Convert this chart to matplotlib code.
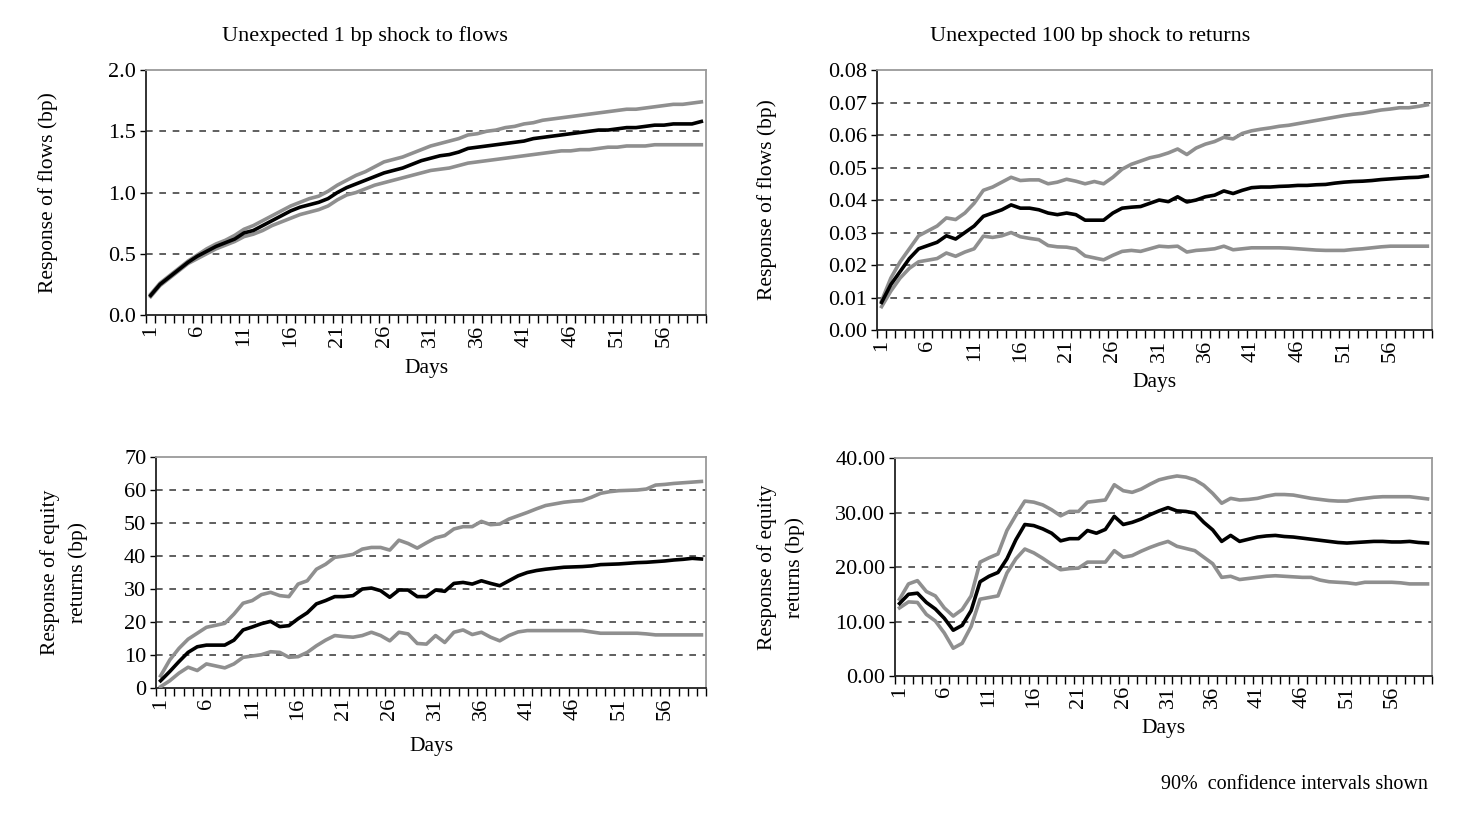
import matplotlib
matplotlib.use("Agg")
import matplotlib.pyplot as plt
import numpy as np
from matplotlib.ticker import FormatStrFormatter, FixedLocator

plt.rcParams['font.family'] = ['Liberation Serif', 'DejaVu Serif']

days = list(range(1, 61))
tick_days = list(range(1, 60, 5))

# top-left: 1 bp shock to flows -> response of flows
flow_flow_mid = [0.16, 0.25, 0.31, 0.37, 0.43, 0.48, 0.52, 0.56, 0.59, 0.62,
                 0.67, 0.69, 0.73, 0.77, 0.81, 0.85, 0.88, 0.90, 0.92, 0.95,
                 1.00, 1.04, 1.07, 1.10, 1.13, 1.16, 1.18, 1.20, 1.23, 1.26,
                 1.28, 1.30, 1.31, 1.33, 1.36, 1.37, 1.38, 1.39, 1.40, 1.41,
                 1.42, 1.44, 1.45, 1.46, 1.47, 1.48, 1.49, 1.50, 1.51, 1.51,
                 1.52, 1.53, 1.53, 1.54, 1.55, 1.55, 1.56, 1.56, 1.56, 1.58]
flow_flow_hi = [0.17, 0.26, 0.32, 0.38, 0.44, 0.49, 0.54, 0.58, 0.61, 0.65,
                0.70, 0.73, 0.77, 0.81, 0.85, 0.89, 0.92, 0.95, 0.97, 1.01,
                1.06, 1.10, 1.14, 1.17, 1.21, 1.25, 1.27, 1.29, 1.32, 1.35,
                1.38, 1.40, 1.42, 1.44, 1.47, 1.48, 1.50, 1.51, 1.53, 1.54,
                1.56, 1.57, 1.59, 1.60, 1.61, 1.62, 1.63, 1.64, 1.65, 1.66,
                1.67, 1.68, 1.68, 1.69, 1.70, 1.71, 1.72, 1.72, 1.73, 1.74]
flow_flow_lo = [0.15, 0.24, 0.30, 0.36, 0.42, 0.46, 0.50, 0.54, 0.57, 0.60,
                0.64, 0.66, 0.69, 0.73, 0.76, 0.79, 0.82, 0.84, 0.86, 0.89,
                0.94, 0.98, 1.00, 1.03, 1.06, 1.08, 1.10, 1.12, 1.14, 1.16,
                1.18, 1.19, 1.20, 1.22, 1.24, 1.25, 1.26, 1.27, 1.28, 1.29,
                1.30, 1.31, 1.32, 1.33, 1.34, 1.34, 1.35, 1.35, 1.36, 1.37,
                1.37, 1.38, 1.38, 1.38, 1.39, 1.39, 1.39, 1.39, 1.39, 1.39]

# top-right: 100 bp shock to returns -> response of flows
ret_flow_mid = [0.0085, 0.014, 0.018, 0.022, 0.025, 0.026, 0.027, 0.029, 0.028, 0.030,
                0.032, 0.035, 0.036, 0.037, 0.0385, 0.0375, 0.0375, 0.037, 0.036, 0.0355,
                0.036, 0.0355, 0.0338, 0.0338, 0.0338, 0.036, 0.0375, 0.0378, 0.038, 0.039,
                0.040, 0.0395, 0.041, 0.0394, 0.040, 0.041, 0.0415, 0.0428, 0.042, 0.043,
                0.0438, 0.044, 0.044, 0.0442, 0.0443, 0.0445, 0.0445, 0.0447, 0.0448, 0.0452,
                0.0455, 0.0457, 0.0458, 0.046, 0.0463, 0.0465, 0.0467, 0.0469, 0.047, 0.0474]
ret_flow_hi = [0.009, 0.016, 0.021, 0.025, 0.029, 0.0305, 0.032, 0.0345, 0.034, 0.036,
               0.039, 0.043, 0.044, 0.0455, 0.047, 0.046, 0.0462, 0.0462, 0.045, 0.0455,
               0.0464, 0.0458, 0.045, 0.0457, 0.045, 0.047, 0.0495, 0.051, 0.052, 0.053,
               0.0536, 0.0545, 0.0557, 0.054, 0.056, 0.0572, 0.058, 0.0593, 0.0588, 0.0605,
               0.0613, 0.0618, 0.0622, 0.0627, 0.063, 0.0635, 0.064, 0.0645, 0.065, 0.0655,
               0.066, 0.0664, 0.0667, 0.0672, 0.0677, 0.068, 0.0684, 0.0684, 0.0688, 0.0693]
ret_flow_lo = [0.0072, 0.012, 0.016, 0.019, 0.021, 0.0215, 0.022, 0.0237, 0.0227, 0.024,
               0.025, 0.0289, 0.0285, 0.029, 0.030, 0.0287, 0.0282, 0.0278, 0.026, 0.0256,
               0.0255, 0.025, 0.0228, 0.0222, 0.0216, 0.023, 0.0242, 0.0245, 0.0242, 0.025,
               0.0258, 0.0256, 0.0258, 0.024, 0.0245, 0.0247, 0.025, 0.0258, 0.0247, 0.025,
               0.0253, 0.0253, 0.0253, 0.0253, 0.0252, 0.025, 0.0248, 0.0246, 0.0245, 0.0245,
               0.0245, 0.0248, 0.025, 0.0253, 0.0256, 0.0258, 0.0258, 0.0258, 0.0258, 0.0258]

# bottom-left: 1 bp shock to flows -> response of equity returns
flow_ret_mid = [2.2, 5.0, 8.0, 10.8, 12.5, 13.0, 13.0, 13.0, 14.5, 17.6,
                18.5, 19.5, 20.2, 18.6, 18.9, 21.0, 22.8, 25.5, 26.5, 27.7,
                27.7, 28.0, 30.0, 30.3, 29.5, 27.5, 29.7, 29.7, 27.7, 27.7,
                29.7, 29.3, 31.7, 32.0, 31.5, 32.5, 31.7, 31.0, 32.5, 34.0,
                35.0, 35.6, 36.0, 36.3, 36.6, 36.7, 36.8, 37.0, 37.4, 37.5,
                37.6, 37.8, 38.0, 38.1, 38.3, 38.5, 38.8, 39.0, 39.3, 39.1]
flow_ret_hi = [3.7, 8.5, 12.0, 14.8, 16.6, 18.4, 19.0, 19.6, 22.4, 25.7,
               26.5, 28.3, 29.0, 28.0, 27.7, 31.5, 32.5, 36.0, 37.5, 39.6,
               40.0, 40.5, 42.1, 42.6, 42.6, 41.8, 44.8, 43.8, 42.4, 44.0,
               45.5, 46.2, 48.2, 48.9, 48.9, 50.5, 49.5, 49.7, 51.2, 52.2,
               53.2, 54.3, 55.3, 55.8, 56.3, 56.6, 56.8, 57.8, 59.0, 59.5,
               59.8, 59.9, 60.0, 60.3, 61.5, 61.7, 62.0, 62.2, 62.4, 62.6]
flow_ret_lo = [0.4, 2.2, 4.5, 6.3, 5.3, 7.3, 6.7, 6.1, 7.3, 9.3,
               9.7, 10.1, 11.0, 10.8, 9.3, 9.5, 10.8, 12.8, 14.5, 15.9,
               15.6, 15.4, 15.9, 16.9, 15.9, 14.3, 16.9, 16.4, 13.5, 13.3,
               15.9, 13.8, 16.9, 17.6, 16.2, 16.9, 15.4, 14.3, 15.9, 17.0,
               17.4, 17.4, 17.4, 17.4, 17.4, 17.4, 17.4, 17.0, 16.6, 16.6,
               16.6, 16.6, 16.6, 16.4, 16.1, 16.1, 16.1, 16.1, 16.1, 16.1]

# bottom-right: 100 bp shock to returns -> response of equity returns
ret_ret_mid = [13.3, 15.0, 15.2, 13.5, 12.3, 10.6, 8.4, 9.3, 12.0, 17.3,
               18.3, 19.0, 21.5, 25.0, 27.8, 27.6, 27.0, 26.2, 24.8, 25.2,
               25.2, 26.7, 26.2, 26.9, 29.3, 27.8, 28.2, 28.8, 29.6, 30.3,
               30.9, 30.3, 30.2, 29.9, 28.2, 26.8, 24.7, 25.8, 24.7, 25.1,
               25.5, 25.7, 25.8, 25.6, 25.5, 25.3, 25.1, 24.9, 24.7, 24.5,
               24.4, 24.5, 24.6, 24.7, 24.7, 24.6, 24.6, 24.7, 24.5, 24.4]
ret_ret_hi = [14.1, 16.9, 17.5, 15.5, 14.7, 12.5, 11.0, 12.2, 14.7, 20.9,
              21.7, 22.4, 26.7, 29.5, 32.1, 31.9, 31.4, 30.5, 29.4, 30.2,
              30.2, 31.9, 32.1, 32.3, 35.1, 34.0, 33.7, 34.3, 35.2, 36.0,
              36.4, 36.7, 36.5, 36.0, 35.0, 33.5, 31.7, 32.6, 32.3, 32.4,
              32.6, 33.0, 33.3, 33.3, 33.2, 32.9, 32.6, 32.4, 32.2, 32.1,
              32.1, 32.4, 32.6, 32.8, 32.9, 32.9, 32.9, 32.9, 32.7, 32.5]
ret_ret_lo = [12.5, 13.6, 13.5, 11.3, 10.1, 7.9, 5.1, 6.0, 9.1, 14.1,
              14.4, 14.7, 18.9, 21.5, 23.3, 22.6, 21.6, 20.5, 19.5, 19.7,
              19.8, 20.9, 20.9, 20.9, 23.0, 21.8, 22.1, 22.9, 23.6, 24.2,
              24.7, 23.8, 23.4, 23.0, 21.8, 20.6, 18.1, 18.3, 17.7, 17.9,
              18.1, 18.3, 18.4, 18.3, 18.2, 18.1, 18.1, 17.6, 17.3, 17.2,
              17.1, 16.9, 17.2, 17.2, 17.2, 17.2, 17.1, 16.9, 16.9, 16.9]

GRAY = "#8f8f8f"
TICK_FS = 16
LABEL_FS = 15.5


def panel(ax, mid, hi, lo, ymax, ystep, fmt, ylabel, ylab_x, xpad):
    ax.plot(days, hi, color=GRAY, lw=2.6, zorder=3)
    ax.plot(days, lo, color=GRAY, lw=2.6, zorder=3)
    ax.plot(days, mid, color="black", lw=2.6, zorder=4)

    ax.set_xlim(0.5, 60.5)
    ax.set_ylim(0, ymax)
    yt = np.arange(0, ymax + ystep / 2, ystep)
    ax.set_yticks(yt)
    ax.yaxis.set_major_formatter(FormatStrFormatter(fmt))
    for v in yt[1:-1]:
        ax.axhline(v, color="#444444", lw=1.2, ls=(0, (4, 4)), zorder=1)

    # category axis: ticks between categories, labels every 5 days
    ax.set_xticks(tick_days)
    ax.set_xticklabels([str(d) for d in tick_days], rotation=90)
    ax.xaxis.set_minor_locator(FixedLocator(np.arange(0.5, 61, 1)))
    ax.tick_params(axis="x", which="major", length=0, pad=7, labelsize=TICK_FS)
    ax.tick_params(axis="x", which="minor", length=6, width=1, color="black",
                   direction="out")
    ax.tick_params(axis="y", length=4, width=1, labelsize=TICK_FS, pad=3)

    for side in ("top", "right"):
        ax.spines[side].set_color("#9a9a9a")
        ax.spines[side].set_linewidth(1.3)
    for side in ("left", "bottom"):
        ax.spines[side].set_color("#222222")
        ax.spines[side].set_linewidth(1.3)

    ax.set_xlabel("Days", fontsize=LABEL_FS, labelpad=xpad)
    ax.set_ylabel(ylabel, fontsize=LABEL_FS, linespacing=1.6)
    ax.yaxis.set_label_coords(ylab_x, 0.5)
    ax.yaxis.label.set_verticalalignment("center")


fig = plt.figure(figsize=(14.69, 8.22), dpi=100)

ax1 = fig.add_axes([0.0994, 0.6168, 0.3812, 0.298])
ax2 = fig.add_axes([0.5970, 0.5985, 0.3778, 0.3163])
ax3 = fig.add_axes([0.1062, 0.1630, 0.3744, 0.2810])
ax4 = fig.add_axes([0.6093, 0.1776, 0.3655, 0.2652])

panel(ax1, flow_flow_mid, flow_flow_hi, flow_flow_lo, 2.0, 0.5, "%.1f",
      "Response of flows (bp)", -0.175, 9)
panel(ax2, ret_flow_mid, ret_flow_hi, ret_flow_lo, 0.08, 0.01, "%.2f",
      "Response of flows (bp)", -0.198, 8)
panel(ax3, flow_ret_mid, flow_ret_hi, flow_ret_lo, 70, 10, "%d",
      "Response of equity\nreturns (bp)", -0.167, 12)
panel(ax4, ret_ret_mid, ret_ret_hi, ret_ret_lo, 40, 10, "%.2f",
      "Response of equity\nreturns (bp)", -0.212, 8)

fig.text(365 / 1469, 1 - 36 / 822, "Unexpected 1 bp shock to flows",
         ha="center", va="center", fontsize=16)
fig.text(1090 / 1469, 1 - 36 / 822, "Unexpected 100 bp shock to returns",
         ha="center", va="center", fontsize=16)
fig.text(1428 / 1469, 1 - 784 / 822, "90%  confidence intervals shown",
         ha="right", va="center", fontsize=14.5)

fig.savefig("out.png", dpi=100)
